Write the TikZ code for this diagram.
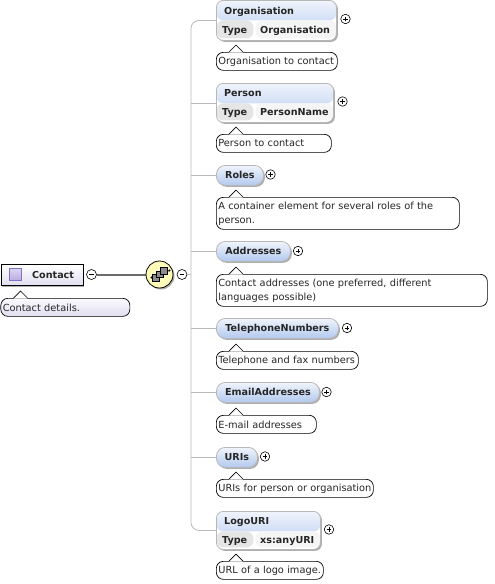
\documentclass[tikz,border=0pt]{standalone}
\usepackage{fontspec}
\setmainfont{DejaVu Sans}
\usetikzlibrary{shadows, positioning}

\definecolor{hdrtop}{HTML}{F0F4FC}
\definecolor{hdrbot}{HTML}{B2C9EE}
\definecolor{lavtop}{HTML}{FBFAFE}
\definecolor{lavbot}{HTML}{E2DEF0}
\definecolor{icontop}{HTML}{DCD6F2}
\definecolor{iconbot}{HTML}{B9ACE2}
\definecolor{iconline}{HTML}{8272C4}

\newcommand{\doctip}[1]{%
  \path[fill=white, draw=none] ([xshift=13pt,yshift=-.6pt]#1.north west) -- ([xshift=20pt,yshift=7pt]#1.north west) -- ([xshift=27pt,yshift=-.6pt]#1.north west) -- cycle;
  \draw[black, line width=.7pt] ([xshift=13pt]#1.north west) -- ([xshift=20pt,yshift=7pt]#1.north west) -- ([xshift=27pt]#1.north west);}

\begin{document}
\begin{tikzpicture}[
    x=1pt, y=-1pt,
    every node/.style={font=\fontsize{9.6}{14}\selectfont, text=black!85},
    elem/.style={rectangle, rounded corners=9pt, draw=black!28, line width=.8pt, top color=hdrtop, bottom color=hdrbot, anchor=north west, inner sep=0pt, minimum height=20pt, drop shadow={shadow xshift=1.5pt, shadow yshift=-1.5pt, fill=black!45, opacity=.7}},
    typedbox/.style={rectangle, rounded corners=7pt, draw=black!28, line width=.8pt, fill=white, anchor=north west, inner sep=0pt, drop shadow={shadow xshift=1.5pt, shadow yshift=-1.5pt, fill=black!45, opacity=.7},
      path picture={
        \shade[top color=hdrtop, bottom color=hdrbot] (path picture bounding box.north west) rectangle ([yshift=-20pt]path picture bounding box.north east);
        \fill[black!10] ([yshift=-20pt]path picture bounding box.north west) rectangle ([xshift=#1,yshift=2pt]path picture bounding box.south west);
        \fill[black!4] ([xshift=#1+2pt,yshift=-20pt]path picture bounding box.north west) rectangle ([yshift=2pt]path picture bounding box.south east);
      }},
    elemtext/.style={anchor=base west, inner sep=0pt},
    doc/.style={rectangle, rounded corners=7pt, draw=black, line width=.7pt, fill=white, anchor=north west, align=left, inner xsep=2pt, inner ysep=1pt, minimum height=18pt, font=\fontsize{9.8}{14}\selectfont},
    plusbtn/.style={circle, draw=black, line width=.6pt, fill=white, minimum size=9.5pt, inner sep=0pt,
      path picture={\draw[line width=.6pt] ([xshift=-2.4pt]path picture bounding box.center) -- ([xshift=2.4pt]path picture bounding box.center) ([yshift=-2.4pt]path picture bounding box.center) -- ([yshift=2.4pt]path picture bounding box.center);}},
    minusbtn/.style={circle, draw=black, line width=.6pt, fill=white, minimum size=10pt, inner sep=0pt,
      path picture={\draw[line width=.6pt] ([xshift=-2.4pt]path picture bounding box.center) -- ([xshift=2.4pt]path picture bounding box.center);}},
    wire/.style={draw=black!27, line width=.8pt},
    link/.style={draw=black!58, line width=2pt},
    block/.style={rectangle, draw=black, fill=black!45, line width=.6pt, minimum size=6.5pt, inner sep=0pt}
]
    \useasboundingbox (0,0) rectangle (495,584);
    \fill[white] (0,0) rectangle (495,584);

    % spine of the sequence
    \coordinate (spine) at (191,274);
    \node[typedbox=37pt, minimum width=120pt, minimum height=40pt] (organisation) at (216,0) {};
    \node[typedbox=37pt, minimum width=117pt, minimum height=39pt] (person) at (216,83) {};
    \node[elem, minimum width=47pt] (roles) at (216,165) {\textbf{Roles}};
    \node[elem, minimum width=74pt] (addresses) at (216,241) {\textbf{Addresses}};
    \node[elem, minimum width=122pt] (telephone) at (216,318) {\textbf{TelephoneNumbers}};
    \node[elem, minimum width=103pt] (email) at (216,382) {\textbf{EmailAddresses}};
    \node[elem, minimum width=41pt] (uris) at (216,447) {\textbf{URIs}};
    \node[typedbox=37pt, minimum width=104pt, minimum height=38pt] (logouri) at (216,511) {};

    \node[elemtext] (organisationName) at (224,14) {\textbf{Organisation}};
    \node[elemtext] (organisationType) at (222,33.5) {\textbf{Type}};
    \node[elemtext] (organisationValue) at (260,33.5) {\textbf{Organisation}};
    \node[elemtext] (personName) at (224,96) {\textbf{Person}};
    \node[elemtext] (personType) at (222,115.5) {\textbf{Type}};
    \node[elemtext] (personValue) at (260,115.5) {\textbf{PersonName}};
    \node[elemtext] (logouriName) at (224,524) {\textbf{LogoURI}};
    \node[elemtext] (logouriType) at (222,543) {\textbf{Type}};
    \node[elemtext] (logouriValue) at (260,543) {\textbf{xs:anyURI}};

    \node[plusbtn] (organisationPlus) at (345.5,19) {};
    \node[plusbtn] (personPlus) at (342.5,101.5) {};
    \node[plusbtn] (rolesPlus) at (270.5,174.5) {};
    \node[plusbtn] (addressesPlus) at (298,251) {};
    \node[plusbtn] (telephonePlus) at (347,328) {};
    \node[plusbtn] (emailPlus) at (326.5,392) {};
    \node[plusbtn] (urisPlus) at (265,456.5) {};
    \node[plusbtn] (logouriPlus) at (329,529.5) {};

    \node[doc, text width=117pt] (organisationDoc) at (216,52) {Organisation to contact};
    \node[doc, text width=111pt] (personDoc) at (216,134) {Person to contact};
    \node[doc, text width=239pt, minimum height=32pt] (rolesDoc) at (216,197) {A container element for several roles of the\\person.};
    \node[doc, text width=267pt, minimum height=32pt] (addressesDoc) at (216,274) {Contact addresses (one preferred, different\\languages possible)};
    \node[doc, text width=138pt] (telephoneDoc) at (216,351) {Telephone and fax numbers};
    \node[doc, text width=96pt] (emailDoc) at (216,415) {E-mail addresses};
    \node[doc, text width=153pt] (urisDoc) at (216,479) {\mbox{URIs for person or organisation}};
    \node[doc, text width=103pt] (logouriDoc) at (216,561) {URL of a logo image.};

    \node[rectangle, draw=black, line width=.9pt, top color=white, bottom color=lavbot, anchor=north west, inner sep=0pt, minimum width=82pt, minimum height=21pt, drop shadow={shadow xshift=1.5pt, shadow yshift=-1.5pt, fill=black!45, opacity=.7}] (contact) at (.5,264) {};
    \node[rectangle, draw=iconline, line width=.7pt, top color=icontop, bottom color=iconbot, minimum size=12pt, inner sep=0pt] (contactIcon) at (15.5,274.5) {};
    \node[elemtext] (contactName) at (32,278.5) {\textbf{Contact}};
    \node[minusbtn] (contactMinus) at (91.5,274.5) {};
    \node[doc, top color=lavtop, bottom color=lavbot, text width=125pt] (contactDoc) at (.5,298) {Contact details.};

    \draw[link] (contactMinus) -- (159.5,274.5);
    \node[circle, draw=black, line width=.8pt, fill=yellow!28, minimum size=27pt, inner sep=0pt, drop shadow={shadow xshift=1.5pt, shadow yshift=-1.5pt, fill=black!45, opacity=.7}] (sequence) at (159.5,274.5) {};
    \node[minusbtn] (sequenceMinus) at (182,274.5) {};
    \coordinate (seqIn) at (151.5,277.5);
    \coordinate (seqOut) at (169.5,270.5);
    \draw[line width=.7pt] (seqIn) -- (seqOut);
    \fill (seqIn) circle (1.1pt) (seqOut) circle (1.1pt);
    \node[block] (blockA) at (156,278) {};
    \node[block] (blockB) at (160,274.5) {};
    \node[block] (blockC) at (164,271) {};

    \draw[wire] (sequenceMinus) -- (sequenceMinus -| spine);
    \draw[wire, rounded corners=8pt] (organisation.west) -| (spine) |- (logouri.west);
    \foreach \el in {person, roles, addresses, telephone, email, uris}
        \draw[wire] (\el.west -| spine) -- (\el.west);

    \foreach \el in {organisationDoc, personDoc, rolesDoc, addressesDoc, telephoneDoc, emailDoc, urisDoc, logouriDoc, contactDoc}
        {\doctip{\el}}
\end{tikzpicture}
\end{document}
